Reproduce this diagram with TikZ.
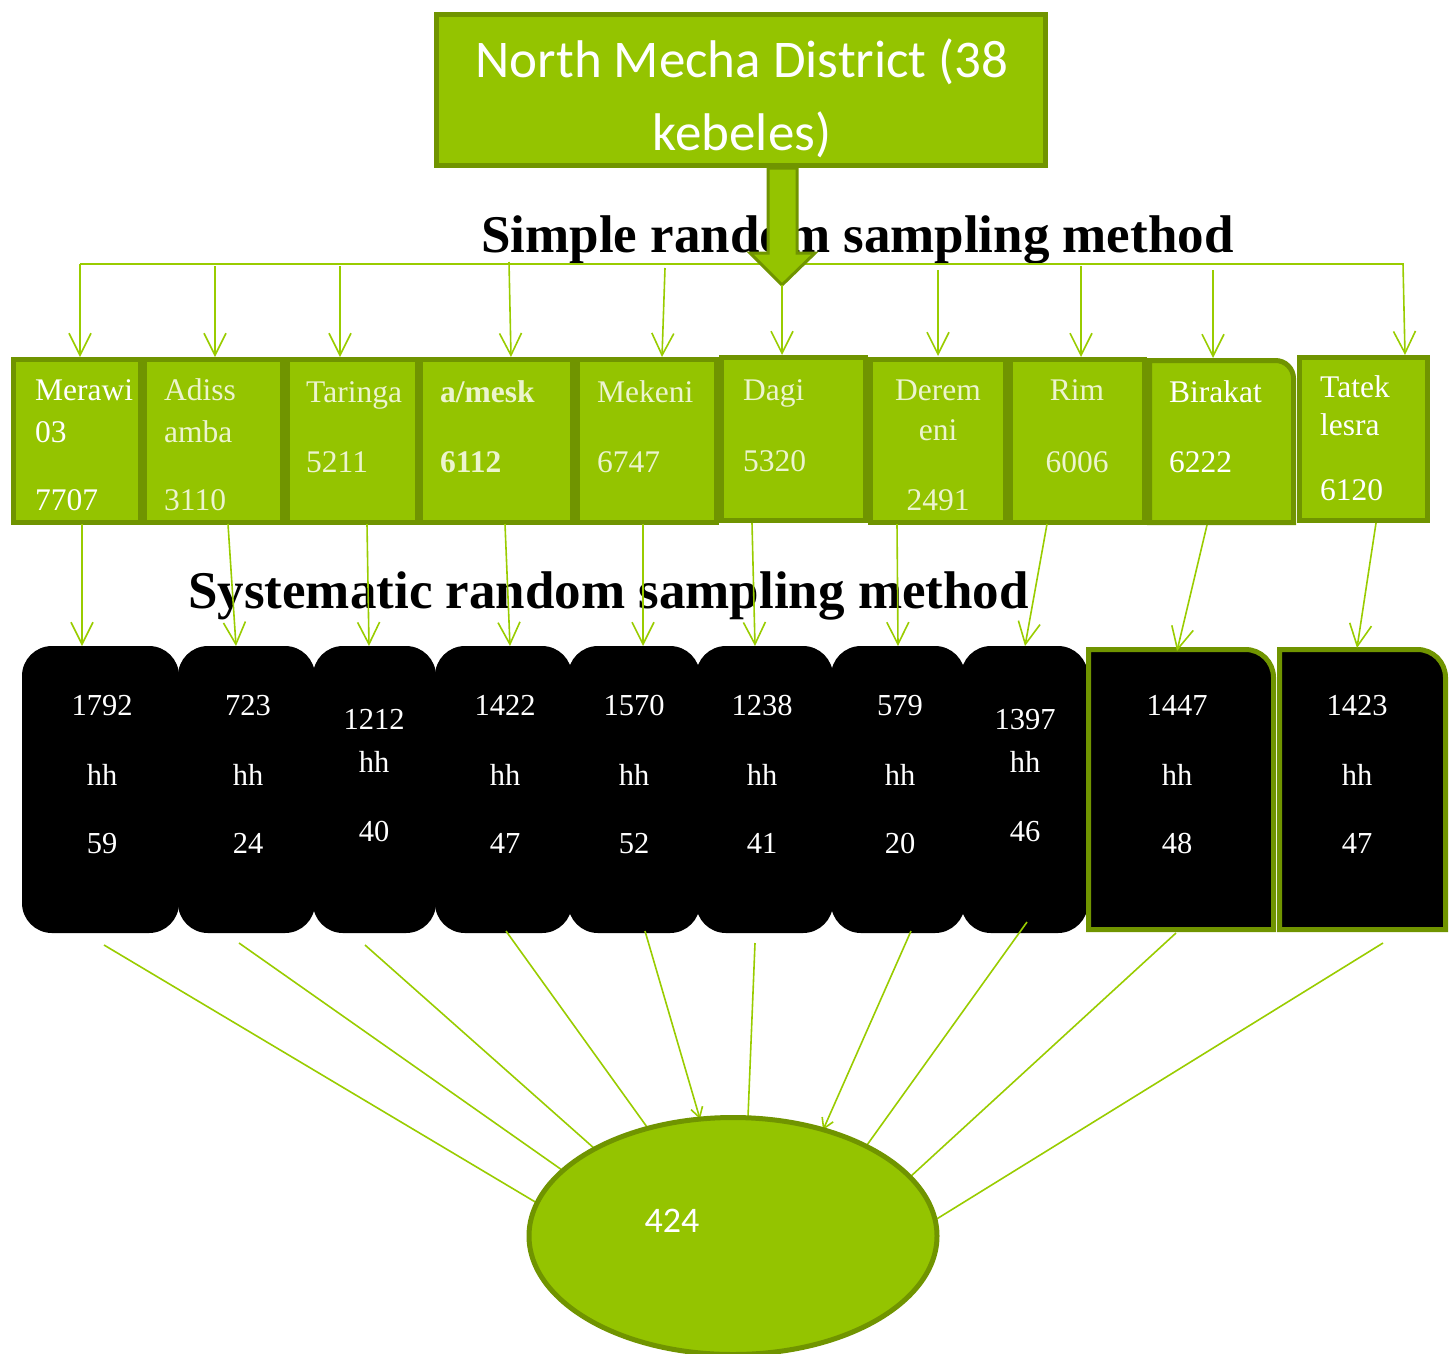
\documentclass[tikz,border=0pt]{standalone}
\usepackage{fontspec}
\setmainfont{Liberation Serif}
\newfontfamily\calfont{Carlito}
\usetikzlibrary{arrows.meta,shapes.geometric}
\definecolor{gfill}{RGB}{148,196,0}
\definecolor{gline}{RGB}{112,148,0}
\definecolor{conncol}{RGB}{153,204,0}
\definecolor{cream}{RGB}{236,244,206}
\begin{document}
\begin{tikzpicture}[x=1pt,y=-1pt,
  gbox/.style={fill=gfill,draw=gline,line width=5pt,inner sep=0pt},
  bbox/.style={fill=black,draw=none,rounded corners=30pt,inner sep=0pt},
  bboxg/.style={fill=black,draw=gline,line width=5pt},
  connline/.style={draw=conncol,line width=1.6pt},
  arr/.style={connline,-{Straight Barb[length=22pt,width=22pt]}},
  sarr/.style={connline,-{Straight Barb[length=10pt,width=12pt]}},
  gtext/.style={anchor=base west,inner sep=0pt,font=\fontsize{31.5}{36}\selectfont},
  gtextc/.style={anchor=base,inner sep=0pt,font=\fontsize{31.5}{36}\selectfont},
  btext/.style={anchor=base,inner sep=0pt,text=white,font=\fontsize{30.5}{36}\selectfont},
  bigtext/.style={anchor=base west,inner sep=0pt,font=\bfseries\fontsize{53}{60}\selectfont}
]
\useasboundingbox (0,0) rectangle (1456,1353);

% ---------- headings ----------
\node[bigtext] (srs) at (481,252) {Simple random sampling method};
\node[bigtext] (sys) at (188,608) {Systematic random sampling method};

% ---------- top box ----------
\node[gbox,minimum width=609pt,minimum height=151pt] (top) at (741,90) {};
\node[anchor=base,inner sep=0pt,text=white,font=\calfont\fontsize{53}{60}\selectfont] (toptxtA) at (742,77) {North Mecha District (38};
\node[anchor=base,inner sep=0pt,text=white,font=\calfont\fontsize{53}{60}\selectfont] (toptxtB) at (742,150) {kebeles)};

% ---------- bus line ----------
\coordinate (busL) at (80,264);
\coordinate (busR) at (1404,264);
\draw[connline] (busL) -- (busR);

% ---------- block arrow ----------
\draw[fill=gfill,draw=gline,line width=3pt,line join=miter]
  (768,168) -- (797,168) -- (797,253) -- (815,253) -- (782,285) -- (750,253) -- (768,253) -- cycle;

% ---------- arrows to kebele boxes ----------
\foreach \i/\xa/\ya/\xb/\yb in {1/80/264/80/357, 2/215/266/215/357, 3/340/266/340/357,
  4/509/262/511/357, 5/665/268/662/357, 6/782/285/782/355, 7/938/270/938/356,
  8/1081/266/1081/357, 9/1213/270/1213/358, 10/1403/264/1405/355}{
  \coordinate (ta\i) at (\xa,\ya);
  \coordinate (tb\i) at (\xb,\yb);
  \draw[arr] (ta\i) -- (tb\i);
}

% ---------- kebele boxes ----------
\node[gbox,minimum width=127pt,minimum height=163pt] (g1) at (77,441) {};
\node[gbox,minimum width=138pt,minimum height=163pt] (g2) at (213.5,441) {};
\node[gbox,minimum width=130pt,minimum height=163pt] (g3) at (352.5,441) {};
\node[gbox,minimum width=152pt,minimum height=163pt] (g4) at (496.5,441) {};
\node[gbox,minimum width=139pt,minimum height=163pt] (g5) at (647,441) {};
\node[gbox,minimum width=144pt,minimum height=163pt] (g6) at (793.5,439) {};
\node[gbox,minimum width=135pt,minimum height=163pt] (g7) at (938,440.5) {};
\node[gbox,minimum width=134pt,minimum height=163pt] (g8) at (1077.5,441) {};
\draw[gbox] (1149.5,522.5) -- (1149.5,360.5) -- (1275.5,360.5)
  arc[start angle=90,end angle=0,radius=18pt] -- (1293.5,522.5) -- cycle;
\node[gbox,minimum width=128pt,minimum height=163pt] (g10) at (1363.5,439) {};

% ---------- kebele texts ----------
\foreach \nm/\x/\y/\t/\c in {
  kA1/35/400/Merawi/white, kA2/35/442/03/white, kA3/35/510/7707/white,
  kB1/164/400/Adiss/cream, kB2/164/442/amba/cream, kB3/164/510/3110/cream,
  kC1/306/402/Taringa/cream, kC2/306/472/5211/cream,
  kE1/597/402/Mekeni/cream, kE2/597/472/6747/cream,
  kF1/743/400/Dagi/cream, kF2/743/471/5320/cream,
  kI1/1169/402/Birakat/white, kI2/1169/472/6222/white,
  kJ1/1320/397/Tatek/white, kJ2/1320/435/lesra/white, kJ3/1320/500/6120/white}{
  \node[gtext,text=\c] (\nm) at (\x,\y) {\t};
}
\node[gtext,text=cream,font=\bfseries\fontsize{31.5}{36}\selectfont] (kD1) at (440,402) {a/mesk};
\node[gtext,text=cream,font=\bfseries\fontsize{31.5}{36}\selectfont] (kD2) at (440,472) {6112};
\foreach \nm/\x/\y/\t in {kG1/938/400/Derem, kG2/938/440/eni, kG3/938/510/2491,
  kH1/1077/400/Rim, kH2/1077/472/6006}{
  \node[gtextc,text=cream] (\nm) at (\x,\y) {\t};
}

% ---------- black boxes ----------
\node[bbox,minimum width=157pt,minimum height=287pt] (b1) at (100.5,789.5) {};
\node[bbox,minimum width=137pt,minimum height=287pt] (b2) at (246.5,789.5) {};
\node[bbox,minimum width=123pt,minimum height=287pt] (b3) at (374.5,789.5) {};
\node[bbox,minimum width=137pt,minimum height=287pt] (b4) at (503.5,789.5) {};
\node[bbox,minimum width=132pt,minimum height=287pt] (b5) at (634,789.5) {};
\node[bbox,minimum width=137pt,minimum height=287pt] (b6) at (764.5,789.5) {};
\node[bbox,minimum width=134pt,minimum height=287pt] (b7) at (898,789.5) {};
\node[bbox,minimum width=127pt,minimum height=287pt] (b8) at (1024.5,789.5) {};
\draw[bboxg] (1088.5,929.5) -- (1088.5,649.5) -- (1245.5,649.5)
  arc[start angle=90,end angle=0,radius=28pt] -- (1273.5,929.5) -- cycle;
\draw[bboxg] (1279.5,929.5) -- (1279.5,649.5) -- (1417.5,649.5)
  arc[start angle=90,end angle=0,radius=28pt] -- (1445.5,929.5) -- cycle;

% ---------- black box texts ----------
\foreach \i/\x/\ya/\yb/\yc/\ta/\tc in {1/102/715/785/853/1792/59, 2/248/715/785/853/723/24,
  3/374/729/772/841/1212/40, 4/505/715/785/853/1422/47, 5/634/715/785/853/1570/52,
  6/762/715/785/853/1238/41, 7/900/715/785/853/579/20, 8/1025/729/772/841/1397/46,
  9/1177/715/785/853/1447/48, 10/1357/715/785/853/1423/47}{
  \node[btext] (hA\i) at (\x,\ya) {\ta};
  \node[btext] (hB\i) at (\x,\yb) {hh};
  \node[btext] (hC\i) at (\x,\yc) {\tc};
}

% ---------- arrows kebele -> households ----------
\foreach \i/\xa/\ya/\xb/\yb in {1/82/524/82/646, 2/228/524/236/646, 3/367/524/369/646,
  4/505/524/510/646, 5/643/524/643/646, 6/752/523/755/646, 7/897/524/898/646,
  8/1047/524/1025/646, 9/1207/525/1177/651, 10/1376/523/1357/648}{
  \coordinate (ma\i) at (\xa,\ya);
  \coordinate (mb\i) at (\xb,\yb);
  \draw[arr] (ma\i) -- (mb\i);
}

% ---------- lines to total ----------
\foreach \i/\xa/\ya/\xb/\yb in {1/104/945/537/1203, 2/239/943/562/1170, 3/365/945/595/1149,
  4/506/931/647/1127, 6/755/943/748/1117, 8/1027/922/867/1145,
  9/1176/933/910/1177, 10/1383/943/935/1220}{
  \coordinate (la\i) at (\xa,\ya);
  \coordinate (lb\i) at (\xb,\yb);
  \draw[connline] (la\i) -- (lb\i);
}
\coordinate (la5) at (645,931);
\coordinate (lb5) at (700,1119);
\draw[sarr] (la5) -- (lb5);
\coordinate (la7) at (911,931);
\coordinate (lb7) at (823,1130);
\draw[sarr] (la7) -- (lb7);

% ---------- total ----------
\node[ellipse,fill=gfill,draw=gline,line width=5pt,minimum width=408pt,minimum height=237pt,inner sep=0pt] (total) at (733,1236) {};
\node[anchor=base,inner sep=0pt,text=white,font=\calfont\fontsize{36}{40}\selectfont] (n424) at (672,1232) {424};
\end{tikzpicture}
\end{document}
